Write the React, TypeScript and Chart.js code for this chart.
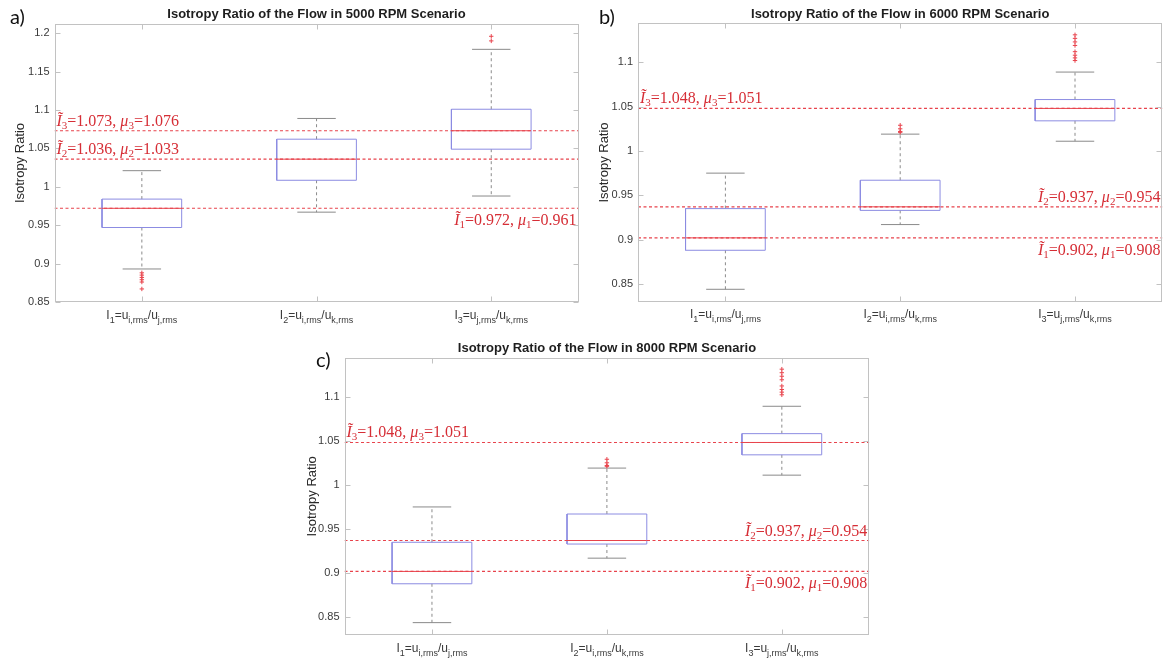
import React, { useEffect, useRef } from 'react';
import { Chart, registerables } from 'chart.js';

Chart.register(...registerables);

// ---------- data ----------
const categories = [1, 2, 3];
// x tick label parts: index, numerator subscript, denominator subscript
const xLabelIndex = ['1', '2', '3'];
const xLabelNumSub = ['i,rms', 'i,rms', 'j,rms'];
const xLabelDenSub = ['j,rms', 'k,rms', 'k,rms'];

// Panel a: 5000 RPM
const aQ1 = [0.947, 1.0085, 1.049];
const aMedian = [0.972, 1.036, 1.073];
const aQ3 = [0.984, 1.062, 1.101];
const aLowWhisker = [0.893, 0.967, 0.988];
const aHighWhisker = [1.021, 1.089, 1.179];
const aOutliers = [[0.888, 0.885, 0.882, 0.879, 0.876, 0.867], [], [1.196, 1.19]];
const aMean = [0.961, 1.033, 1.076];
const aYTicks = [0.85, 0.9, 0.95, 1, 1.05, 1.1, 1.15, 1.2];
const aYRange = [0.85, 1.212];

// Panel b: 6000 RPM
const bQ1 = [0.888, 0.933, 1.034];
const bMedian = [0.902, 0.937, 1.048];
const bQ3 = [0.935, 0.967, 1.058];
const bLowWhisker = [0.844, 0.917, 1.011];
const bHighWhisker = [0.975, 1.019, 1.089];
const bOutliers = [[], [1.029, 1.025, 1.022, 1.021], [1.131, 1.127, 1.123, 1.119, 1.112, 1.108, 1.105, 1.102]];
const bMean = [0.908, 0.954, 1.051];
const bYTicks = [0.85, 0.9, 0.95, 1, 1.05, 1.1];
const bYRange = [0.83, 1.144];

// Panel c: 8000 RPM
const cQ1 = [0.888, 0.933, 1.034];
const cMedian = [0.902, 0.937, 1.048];
const cQ3 = [0.935, 0.967, 1.058];
const cLowWhisker = [0.844, 0.917, 1.011];
const cHighWhisker = [0.975, 1.019, 1.089];
const cOutliers = [[], [1.029, 1.025, 1.022, 1.021], [1.131, 1.127, 1.123, 1.119, 1.112, 1.108, 1.105, 1.102]];
const cMean = [0.908, 0.954, 1.051];
const cYTicks = [0.85, 0.9, 0.95, 1, 1.05, 1.1];
const cYRange = [0.83, 1.144];

// ---------- styles ----------
const SANS = '"Liberation Sans", Arial, Helvetica, sans-serif';
const SERIF = '"Liberation Serif", "Times New Roman", serif';
const BOX_COLOR = '#8c8ce2';
const WHISKER_COLOR = '#8a8a8a';
const RED_LINE = '#e8434c';
const RED_TEXT = '#d62e36';
const AXIS_COLOR = '#c2c2c2';
const BOX_HALF = 0.228;
const CAP_HALF = 0.11;

type NotePos = 'aboveLeft' | 'aboveRight' | 'belowRight';

interface Panel {
  key: string;
  title: string;
  letter: string;
  q1: number[]; med: number[]; q3: number[]; lo: number[]; hi: number[];
  out: number[][]; mean: number[];
  yTicks: number[]; yRange: number[];
  notePos: NotePos[];
  left: number; top: number; w: number; h: number;
  axisW: number; padR: number; padT: number; padB: number; titlePad: number;
  titleX: number; titleY: number; letterX: number; letterY: number;
}

const panels: Panel[] = [
  {
    key: 'a', title: 'Isotropy Ratio of the Flow in 5000 RPM Scenario', letter: 'a)',
    q1: aQ1, med: aMedian, q3: aQ3, lo: aLowWhisker, hi: aHighWhisker, out: aOutliers, mean: aMean,
    yTicks: aYTicks, yRange: aYRange,
    notePos: ['belowRight', 'aboveLeft', 'aboveLeft'],
    left: 0, top: 0, w: 590, h: 330, axisW: 54.5, padR: 11.4, padT: 24, padB: 28, titlePad: 13,
    titleX: 316.5, titleY: 14, letterX: 10, letterY: 18,
  },
  {
    key: 'b', title: 'Isotropy Ratio of the Flow in 6000 RPM Scenario', letter: 'b)',
    q1: bQ1, med: bMedian, q3: bQ3, lo: bLowWhisker, hi: bHighWhisker, out: bOutliers, mean: bMean,
    yTicks: bYTicks, yRange: bYRange,
    notePos: ['belowRight', 'aboveRight', 'aboveLeft'],
    left: 580, top: 0, w: 588, h: 330, axisW: 58, padR: 5.6, padT: 23.3, padB: 28.3, titlePad: 17,
    titleX: 900.2, titleY: 14, letterX: 599, letterY: 18,
  },
  {
    key: 'c', title: 'Isotropy Ratio of the Flow in 8000 RPM Scenario', letter: 'c)',
    q1: cQ1, med: cMedian, q3: cQ3, lo: cLowWhisker, hi: cHighWhisker, out: cOutliers, mean: cMean,
    yTicks: cYTicks, yRange: cYRange,
    notePos: ['belowRight', 'aboveRight', 'aboveLeft'],
    left: 290, top: 330, w: 600, h: 333, axisW: 54.5, padR: 20.7, padT: 27.7, padB: 28, titlePad: 14.5,
    titleX: 607, titleY: 348, letterX: 316, letterY: 361,
  },
];

type Seg = { t: string; sub?: boolean; it?: boolean };

function drawRich(ctx: CanvasRenderingContext2D, segs: Seg[], x: number, y: number,
  align: 'left' | 'right' | 'center', size: number, subSize: number, subDy: number, family: string, color: string) {
  const font = (s: Seg) => `${s.it ? 'italic ' : ''}${s.sub ? subSize : size}px ${family}`;
  let w = 0;
  segs.forEach((s) => { ctx.font = font(s); w += ctx.measureText(s.t).width; });
  let cx = align === 'left' ? x : align === 'right' ? x - w : x - w / 2;
  ctx.fillStyle = color;
  ctx.textAlign = 'left';
  ctx.textBaseline = 'alphabetic';
  segs.forEach((s) => {
    ctx.font = font(s);
    ctx.fillText(s.t, cx, y + (s.sub ? subDy : 0));
    cx += ctx.measureText(s.t).width;
  });
}

function makeDecor(p: Panel) {
  return {
    id: 'decor_' + p.key,
    afterDatasetsDraw(chart: any) {
      const { ctx, chartArea: ca, scales } = chart;
      const xs = scales.x;
      const ys = scales.y;
      ctx.save();
      // axes box
      ctx.strokeStyle = AXIS_COLOR;
      ctx.lineWidth = 1;
      ctx.setLineDash([]);
      const L = Math.round(ca.left) + 0.5, R = Math.round(ca.right) - 0.5;
      const T = Math.round(ca.top) + 0.5, B = Math.round(ca.bottom) - 0.5;
      ctx.strokeRect(L, T, R - L, B - T);
      ctx.beginPath();
      ys.ticks.forEach((t: any) => {
        const py = Math.round(ys.getPixelForValue(t.value)) + 0.5;
        ctx.moveTo(L, py); ctx.lineTo(L + 5, py);
        ctx.moveTo(R, py); ctx.lineTo(R - 5, py);
      });
      categories.forEach((c) => {
        const px = Math.round(xs.getPixelForValue(c)) + 0.5;
        ctx.moveTo(px, B); ctx.lineTo(px, B - 5);
        ctx.moveTo(px, T); ctx.lineTo(px, T + 5);
      });
      ctx.stroke();

      // x tick labels with subscripts
      categories.forEach((c, i) => {
        const px = xs.getPixelForValue(c);
        drawRich(ctx, [
          { t: 'I' }, { t: xLabelIndex[i], sub: true },
          { t: '=u' }, { t: xLabelNumSub[i], sub: true },
          { t: '/u' }, { t: xLabelDenSub[i], sub: true },
        ], px, ca.bottom + 16.5, 'center', 12, 9, 4, SANS, '#3a3a3a');
      });

      // median/mean annotations
      categories.forEach((c, i) => {
        const py = ys.getPixelForValue(p.med[i]);
        const pos = p.notePos[i];
        const segs: Seg[] = [
          { t: '\u0128', it: true }, { t: String(c), sub: true },
          { t: '=' + p.med[i].toFixed(3) + ', ' },
          { t: '\u03bc', it: true }, { t: String(c), sub: true },
          { t: '=' + p.mean[i].toFixed(3) },
        ];
        if (pos === 'aboveLeft') drawRich(ctx, segs, ca.left + 2, py - 5, 'left', 16, 11, 3, SERIF, RED_TEXT);
        else if (pos === 'aboveRight') drawRich(ctx, segs, ca.right - 2, py - 5, 'right', 16, 11, 3, SERIF, RED_TEXT);
        else drawRich(ctx, segs, ca.right - 2, py + 17, 'right', 16, 11, 3, SERIF, RED_TEXT);
      });
      ctx.restore();
    },
  };
}

function buildDatasets(p: Panel) {
  const gap = (x: number) => ({ x, y: null as any });
  const refPts: any[] = [];
  const boxPts: any[] = [];
  const medPts: any[] = [];
  const whiskPts: any[] = [];
  const capPts: any[] = [];
  const outPts: any[] = [];
  categories.forEach((x, i) => {
    refPts.push({ x: 0.5, y: p.med[i] }, { x: 3.5, y: p.med[i] }, gap(3.5));
    boxPts.push(
      { x: x - BOX_HALF, y: p.q1[i] }, { x: x + BOX_HALF, y: p.q1[i] },
      { x: x + BOX_HALF, y: p.q3[i] }, { x: x - BOX_HALF, y: p.q3[i] },
      { x: x - BOX_HALF, y: p.q1[i] }, gap(x));
    medPts.push({ x: x - BOX_HALF, y: p.med[i] }, { x: x + BOX_HALF, y: p.med[i] }, gap(x));
    whiskPts.push({ x, y: p.q3[i] }, { x, y: p.hi[i] }, gap(x), { x, y: p.q1[i] }, { x, y: p.lo[i] }, gap(x));
    capPts.push({ x: x - CAP_HALF, y: p.hi[i] }, { x: x + CAP_HALF, y: p.hi[i] }, gap(x),
      { x: x - CAP_HALF, y: p.lo[i] }, { x: x + CAP_HALF, y: p.lo[i] }, gap(x));
    p.out[i].forEach((v) => outPts.push({ x, y: v }));
  });
  const line = (data: any[], color: string, dash: number[], width = 1) => ({
    data, showLine: true, borderColor: color, borderWidth: width, borderDash: dash,
    pointRadius: 0, fill: false, spanGaps: false, tension: 0,
  });
  return [
    line(refPts, RED_LINE, [3, 2.5], 1.1),
    { data: outPts, showLine: false, pointStyle: 'cross', pointRadius: 2.2, borderColor: RED_LINE, borderWidth: 1, backgroundColor: RED_LINE },
    line(medPts, RED_LINE, [], 1),
    line(boxPts, BOX_COLOR, [], 1),
    line(capPts, WHISKER_COLOR, [], 1),
    line(whiskPts, WHISKER_COLOR, [3, 3], 1),
  ];
}

function PanelChart({ p }: { p: Panel }) {
  const ref = useRef<HTMLCanvasElement>(null);
  useEffect(() => {
    if (!ref.current) return;
    const chart = new Chart(ref.current, {
      type: 'scatter',
      data: { datasets: buildDatasets(p) as any },
      options: {
        responsive: false,
        animation: false,
        devicePixelRatio: 1,
        layout: { padding: { left: 0, right: p.padR, top: p.padT, bottom: p.padB } },
        plugins: { legend: { display: false }, tooltip: { enabled: false }, title: { display: false } },
        scales: {
          x: { type: 'linear', min: 0.5, max: 3.5, display: false },
          y: {
            type: 'linear', min: p.yRange[0], max: p.yRange[1],
            grid: { display: false, drawTicks: false }, border: { display: false },
            afterBuildTicks: (s: any) => { s.ticks = p.yTicks.map((v) => ({ value: v })); },
            afterFit: (s: any) => { s.width = p.axisW; },
            ticks: {
              padding: 5, color: '#3a3a3a', font: { size: 11, family: SANS },
              callback: (v: any) => String(+Number(v).toFixed(2)),
            },
            title: {
              display: true, text: 'Isotropy Ratio', color: '#2a2a2a',
              font: { size: 13, family: SANS }, padding: { top: p.titlePad, bottom: 0 },
            },
          },
        },
      } as any,
      plugins: [makeDecor(p) as any],
    });
    return () => chart.destroy();
  }, [p]);
  return (
    <>
      <canvas ref={ref} width={p.w} height={p.h}
        style={{ position: 'absolute', left: p.left, top: p.top, width: p.w, height: p.h }} />
      <div style={{
        position: 'absolute', left: p.titleX - 250, top: p.titleY - 8, width: 500, lineHeight: '16px',
        textAlign: 'center', font: `bold 13px ${SANS}`, color: '#1e1e1e', whiteSpace: 'nowrap',
      }}>{p.title}</div>
      <div style={{
        position: 'absolute', left: p.letterX, top: p.letterY - 14, lineHeight: '28px',
        font: `20px Lato, "Open Sans", sans-serif`, color: '#111',
      }}>{p.letter}</div>
    </>
  );
}

export default function App() {
  return (
    <div style={{ position: 'absolute', left: 0, top: 0, width: 1168, height: 663, background: '#fff', overflow: 'hidden' }}>
      {panels.map((p) => <PanelChart key={p.key} p={p} />)}
    </div>
  );
}
